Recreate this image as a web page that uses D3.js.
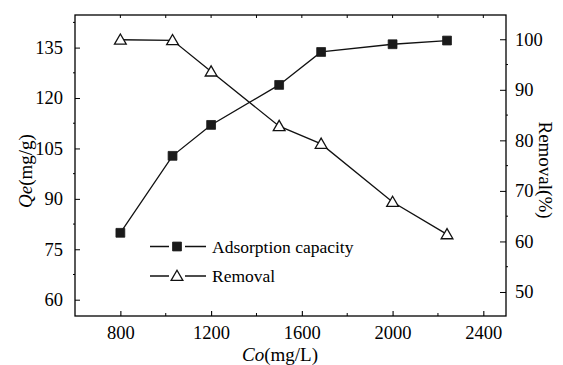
<!DOCTYPE html>
<html><head><meta charset="utf-8">
<script src="https://cdn.jsdelivr.net/npm/d3@7"></script>
<style>
body{margin:0;background:#fff;}
svg{display:block;font-family:"Liberation Serif","Times New Roman",serif;}
</style></head>
<body>
<svg id="chart" width="563" height="365"></svg>
<script>
const conc = [800, 1030, 1200, 1500, 1685, 2000, 2240];
const capacity = [79.9, 102.8, 112.0, 123.9, 133.7, 136.0, 137.1];
const removal = [99.9, 99.8, 93.6, 82.8, 79.3, 67.8, 61.4];
const xTicks = [800, 1200, 1600, 2000, 2400];
const xMinor = [600, 1000, 1400, 1800, 2200];
const leftTicks = [60, 75, 90, 105, 120, 135];
const leftMinor = [67.5, 82.5, 97.5, 112.5, 127.5, 142.5];
const rightTicks = [50, 60, 70, 80, 90, 100];
const rightMinor = [55, 65, 75, 85, 95];
const seriesNames = ["Adsorption capacity", "Removal"];

const svg = d3.select("#chart");
const L = 75, R = 506, T = 15, B = 316;
const x = d3.scaleLinear().domain([600, 2500]).range([L, R]);
const yL = d3.scaleLinear().domain([55.15, 144.7]).range([B, T]);
const yR = d3.scaleLinear().domain([45.25, 104.8]).range([B, T]);

const g = svg.append("g");
g.append("rect").attr("x", L).attr("y", T).attr("width", R - L).attr("height", B - T)
  .attr("fill", "none").attr("stroke", "#000").attr("stroke-width", 1.3);

const fs = 18.5;
const FF = "Liberation Serif";
const bx = svg.append("g").attr("transform", `translate(0,${B})`)
  .call(d3.axisBottom(x).tickValues(xTicks).tickFormat(d3.format("d")).tickSizeInner(-5).tickSizeOuter(0).tickPadding(10));
bx.select(".domain").remove();
bx.attr("font-family", FF);
bx.selectAll("text").attr("font-size", fs).attr("fill", "#000");
bx.selectAll("line").attr("stroke-width", 1.1);
g.selectAll(".xminor").data(xMinor.filter(v => v > 600)).join("line")
  .attr("x1", d => x(d)).attr("x2", d => x(d)).attr("y1", B).attr("y2", B - 3)
  .attr("stroke", "#000");
g.selectAll(".xtop").data(xTicks.concat(xMinor.filter(v => v > 600))).join("line")
  .attr("x1", d => x(d)).attr("x2", d => x(d)).attr("y1", T).attr("y2", T + 3)
  .attr("stroke", "#000");

const ly = svg.append("g").attr("transform", `translate(${L},0)`)
  .call(d3.axisLeft(yL).tickValues(leftTicks).tickFormat(d3.format("d")).tickSizeInner(-5).tickSizeOuter(0).tickPadding(12));
ly.select(".domain").remove();
ly.attr("font-family", FF);
ly.selectAll("text").attr("font-size", fs).attr("fill", "#000");
g.selectAll(".lminor").data(leftMinor).join("line")
  .attr("x1", L).attr("x2", L - 2).attr("y1", d => yL(d)).attr("y2", d => yL(d)).attr("stroke", "#000");

const ry = svg.append("g").attr("transform", `translate(${R},0)`)
  .call(d3.axisRight(yR).tickValues(rightTicks).tickFormat(d3.format("d")).tickSizeInner(-6).tickSizeOuter(0).tickPadding(9));
ry.select(".domain").remove();
ry.attr("font-family", FF);
ry.selectAll("text").attr("font-size", fs).attr("fill", "#000");
g.selectAll(".rminor").data(rightMinor).join("line")
  .attr("x1", R).attr("x2", R + 2).attr("y1", d => yR(d)).attr("y2", d => yR(d)).attr("stroke", "#000");

const xt = svg.append("text").attr("x", 280).attr("y", 361).attr("text-anchor", "middle").attr("font-size", 19).attr("font-family", FF);
xt.append("tspan").attr("font-style", "italic").text("Co");
xt.append("tspan").text("(mg/L)");
const lt = svg.append("text").attr("transform", "translate(32,171) rotate(-90)").attr("text-anchor", "middle").attr("font-size", 19).attr("font-family", FF);
lt.append("tspan").attr("font-style", "italic").text("Qe");
lt.append("tspan").text("(mg/g)");
svg.append("text").attr("transform", "translate(539,170) rotate(90)").attr("text-anchor", "middle")
  .attr("font-size", 19).attr("font-family", FF).text("Removal(%)");

const capData = conc.map((c, i) => [c, capacity[i]]);
const remData = conc.map((c, i) => [c, removal[i]]);
svg.append("path").datum(capData).attr("fill", "none").attr("stroke", "#111").attr("stroke-width", 1.3)
  .attr("d", d3.line().x(d => x(d[0])).y(d => yL(d[1])));
svg.append("path").datum(remData).attr("fill", "none").attr("stroke", "#111").attr("stroke-width", 1.3)
  .attr("d", d3.line().x(d => x(d[0])).y(d => yR(d[1])));

const sq = d3.symbol().type(d3.symbolSquare).size(78);
const tri = d3.symbol().type(d3.symbolTriangle).size(60);
svg.selectAll(".sq").data(capData).join("path")
  .attr("transform", d => `translate(${x(d[0])},${yL(d[1])})`).attr("d", sq)
  .attr("fill", "#1a1a1a").attr("stroke", "#1a1a1a").attr("stroke-width", 0.8);
svg.selectAll(".tri").data(remData).join("path")
  .attr("transform", d => `translate(${x(d[0])},${yR(d[1]) + 1})`).attr("d", tri)
  .attr("fill", "#fff").attr("stroke", "#111").attr("stroke-width", 1.3);

const leg = svg.append("g");
[0, 1].forEach(i => {
  const yy = 246.5 + i * 29.5;
  leg.append("line").attr("x1", 150).attr("x2", 206).attr("y1", yy).attr("y2", yy)
    .attr("stroke", "#111").attr("stroke-width", 1.3);
  leg.append("rect").attr("x", 169).attr("y", yy - 6).attr("width", 16).attr("height", 12).attr("fill", "#fff");
  leg.append("path").attr("transform", `translate(177,${yy + (i ? 1 : 0)})`).attr("d", i ? tri : sq)
    .attr("fill", i ? "#fff" : "#1a1a1a").attr("stroke", "#111").attr("stroke-width", i ? 1.3 : 0.8);
  leg.append("text").attr("x", 212).attr("y", yy + 6).attr("font-size", 17.5).attr("font-family", FF).text(seriesNames[i]);
});
</script>
</body></html>
